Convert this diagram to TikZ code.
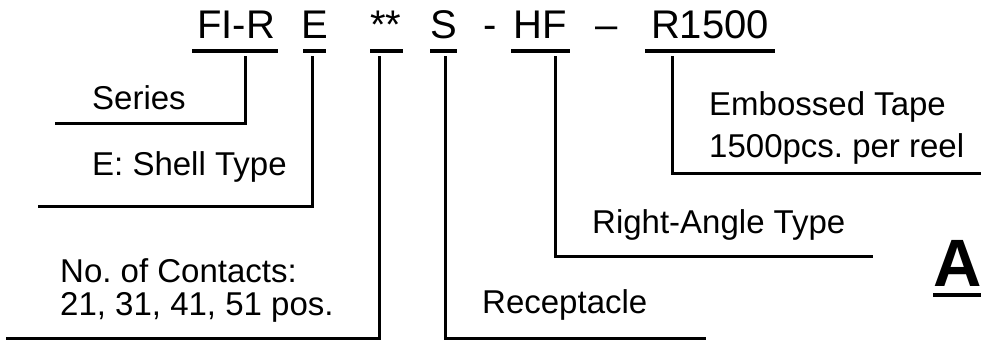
\documentclass[tikz,border=0pt]{standalone}
\usepackage{fontspec}
\setmainfont{Liberation Sans}
\frenchspacing
\begin{document}
\begin{tikzpicture}[x=1pt,y=-1pt,
  ttl/.style={inner sep=0pt,anchor=base,font=\fontsize{40}{40}\selectfont},
  lbl/.style={inner sep=0pt,anchor=base west,font=\fontsize{33}{33}\selectfont},
  lead/.style={line width=3pt,line cap=rect},
  uline/.style={line width=3.5pt}]
\useasboundingbox (0,0) rectangle (981,340);
% title parts
\node[ttl] (fir) at (236,38) {FI-R};
\node[ttl] (e) at (314.5,38) {E};
\node[ttl] (st) at (386,38) {**};
\node[ttl] (s) at (443.5,38) {S};
\node[ttl] (h1) at (490,38) {-};
\node[ttl] (hf) at (540.5,38) {HF};
\node[ttl] (d2) at (607,38) {--};
\node[ttl] (r) at (710,38) {R1500};
% underlines
\draw[uline] (192,51) -- (278,51);
\draw[uline] (303,51) -- (326,51);
\draw[uline] (370,51) -- (403,51);
\draw[uline] (430,51) -- (457,51);
\draw[uline] (511,51) -- (570,51);
\draw[uline] (645,51) -- (775,51);
% labels
\node[lbl] (ser) at (92,109) {Series};
\node[lbl] (shell) at (92,175) {E: Shell Type};
\node[lbl] (nc1) at (60,282) {No. of Contacts:};
\node[lbl] (nc2) at (60,315) {21, 31, 41, 51 pos.};
\node[lbl] (rec) at (482,313) {Receptacle};
\node[lbl] (ra) at (592,233) {Right-Angle Type};
\node[lbl] (emb1) at (709,115) {Embossed Tape};
\node[lbl] (emb2) at (709,157) {1500pcs. per reel};
\node[inner sep=0pt,anchor=base west,font=\bfseries\fontsize{67}{67}\selectfont] (a) at (933,286) {A};
\draw[line width=4pt] (933,295) -- (981,295);
% leader end points
\coordinate (fir-s) at (245,57);
\coordinate (e-s) at (312,57);
\coordinate (st-s) at (379,57);
\coordinate (s-s) at (445,57);
\coordinate (hf-s) at (555,57);
\coordinate (r-s) at (672,57);
\coordinate (ser-e) at (56,123);
\coordinate (shell-e) at (39,206);
\coordinate (nc-e) at (7,338);
\coordinate (rec-e) at (704,338);
\coordinate (ra-e) at (871,256);
\coordinate (emb-e) at (981,173);
% leaders
\draw[lead] (fir-s) |- (ser-e);
\draw[lead] (e-s) |- (shell-e);
\draw[lead] (st-s) |- (nc-e);
\draw[lead] (s-s) |- (rec-e);
\draw[lead] (hf-s) |- (ra-e);
\draw[lead] (r-s) |- (emb-e);
\end{tikzpicture}
\end{document}
